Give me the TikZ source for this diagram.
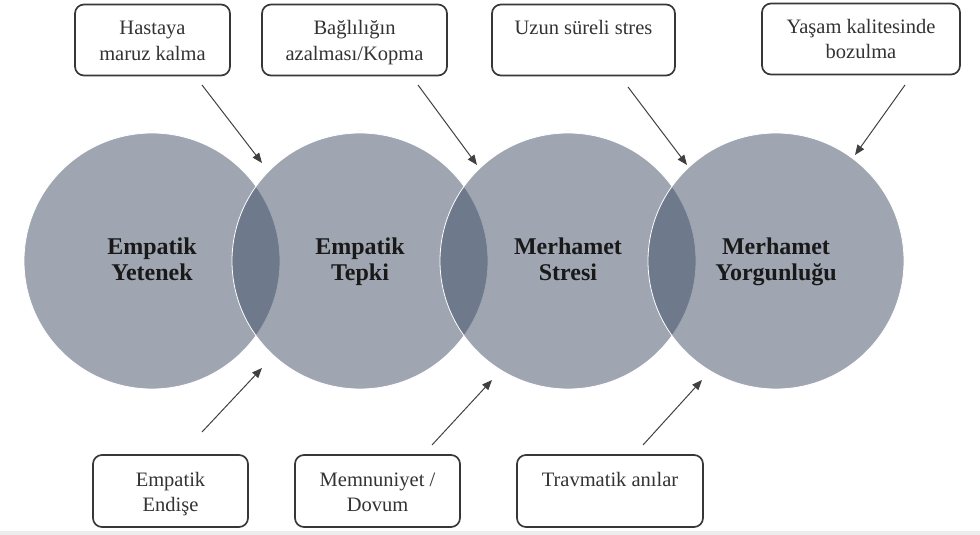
\documentclass[tikz,border=0pt]{standalone}
\usepackage{fontspec}
\setmainfont{Liberation Serif}
\usepackage{tikz}
\usetikzlibrary{positioning,arrows.meta}
\definecolor{stagefill}{RGB}{63,77,101}
\definecolor{notedraw}{RGB}{55,55,55}

\begin{document}
\begin{tikzpicture}[
    x=1pt, y=-1pt,
    stage/.style={circle, minimum size=256pt, inner sep=0pt, fill=stagefill, fill opacity=0.5, text opacity=1, draw=white, line width=0.8pt, text=black!90, align=center, font=\fontsize{24}{26}\selectfont\bfseries, text height=45pt, text depth=7pt},
    note/.style={rectangle, rounded corners=9pt, draw=notedraw, line width=1.7pt, fill=white, minimum height=71pt, align=center, text=black!80, font=\fontsize{20.5}{25}\selectfont, text height=45pt, text depth=5pt},
    oneline/.style={text height=20pt, text depth=30pt},
    arrow/.style={-{Triangle[length=10pt,width=8pt]}, line width=1pt, color=black!75}
]
\useasboundingbox (0,0) rectangle (980,535);
\fill[black!7] (0,531) rectangle (980,535);

% Stages (overlapping circles)
\node[stage] (yetenek) at (152,261) {Empatik\\Yetenek};
\node[stage] (tepki) at (360,261) {Empatik\\Tepki};
\node[stage] (stres) at (568,261) {Merhamet\\Stresi};
\node[stage] (yorgun) at (776,261) {Merhamet\\Yorgunluğu};

% Top notes
\node[note, minimum width=155pt] (maruz) at (152.5,40) {Hastaya\\maruz kalma};
\node[note, minimum width=185pt] (kopma) at (354.5,40) {Bağlılığın\\azalması/Kopma};
\node[note, oneline, minimum width=183pt] (uzun) at (583.5,40) {Uzun süreli stres};
\node[note, minimum width=198pt] (yasam) at (861,39) {Yaşam kalitesinde\\bozulma};

% Bottom notes
\node[note, minimum width=155pt, minimum height=72pt] (endise) at (170.5,491) {Empatik\\Endişe};
\node[note, minimum width=165pt, minimum height=72pt] (doyum) at (377.5,491) {Memnuniyet /\\Dovum};
\node[note, oneline, minimum width=186pt, minimum height=72pt] (travma) at (610,491) {Travmatik anılar};

% Arrow ends
\coordinate (maruzA) at (202,85);   \coordinate (maruzB) at (262,163);
\coordinate (kopmaA) at (418,85);   \coordinate (kopmaB) at (477,165);
\coordinate (uzunA) at (628,87);    \coordinate (uzunB) at (687,165);
\coordinate (yasamA) at (905,85);   \coordinate (yasamB) at (855,155);
\coordinate (endiseA) at (202,432); \coordinate (endiseB) at (262,368);
\coordinate (doyumA) at (432,445);  \coordinate (doyumB) at (492,380);
\coordinate (travmaA) at (643,445); \coordinate (travmaB) at (702,380);

% Influences
\draw[arrow] (maruzA) -- (maruzB);
\draw[arrow] (kopmaA) -- (kopmaB);
\draw[arrow] (uzunA) -- (uzunB);
\draw[arrow] (yasamA) -- (yasamB);
\draw[arrow] (endiseA) -- (endiseB);
\draw[arrow] (doyumA) -- (doyumB);
\draw[arrow] (travmaA) -- (travmaB);
\end{tikzpicture}
\end{document}
